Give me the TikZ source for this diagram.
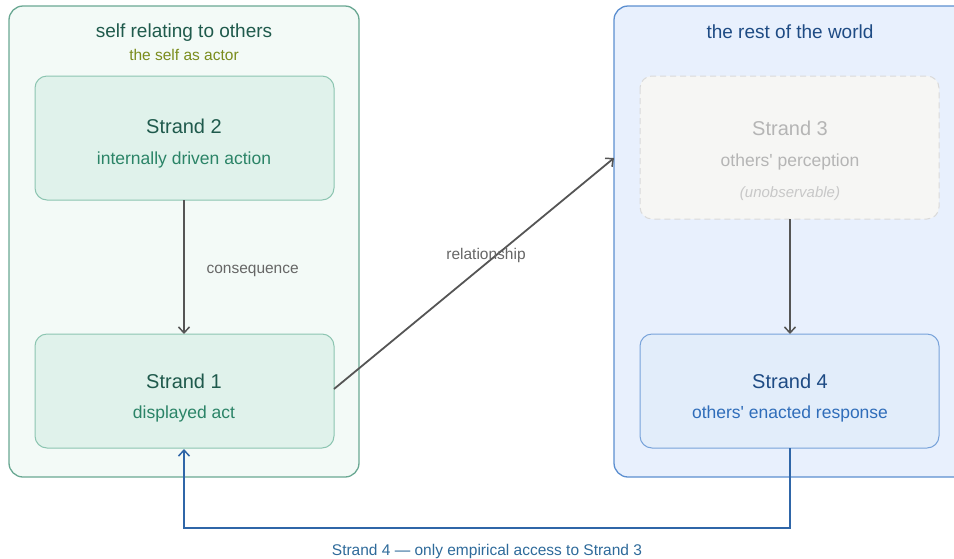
\documentclass[tikz,border=0pt]{standalone}
\usepackage{fontspec}
\setmainfont{Liberation Sans}
\usetikzlibrary{arrows.meta}

\definecolor{selfframe}{HTML}{6AA893}
\definecolor{selffill}{HTML}{F3FAF7}
\definecolor{selfbox}{HTML}{E0F2EB}
\definecolor{selfedge}{HTML}{8CC5B1}
\definecolor{selfhead}{HTML}{1F5A4C}
\definecolor{selfsub}{HTML}{2B8467}
\definecolor{olive}{HTML}{7A8C1C}
\definecolor{worldframe}{HTML}{5C8FD0}
\definecolor{worldfill}{HTML}{E8F0FD}
\definecolor{worldbox}{HTML}{E2EDFA}
\definecolor{worldedge}{HTML}{78A3DA}
\definecolor{worldhead}{HTML}{1E4B84}
\definecolor{worldsub}{HTML}{2F6DBA}
\definecolor{hiddenfill}{HTML}{F6F6F4}
\definecolor{hiddenedge}{HTML}{DADADA}
\definecolor{hiddentext}{HTML}{B5B5B5}
\definecolor{hiddenfaint}{HTML}{C8C8C8}
\definecolor{linkgray}{HTML}{555555}
\definecolor{labelgray}{HTML}{666666}
\definecolor{feedback}{HTML}{2F66A8}
\definecolor{feedtext}{HTML}{2E6A9A}

\newcommand{\fs}[1]{\fontsize{#1pt}{#1pt}\selectfont}
\newcommand{\apos}{\textquotesingle}

\tikzset{
  frame/.style={rounded corners=14pt, line width=1.3pt},
  strandbox/.style={rounded corners=12pt, line width=1pt},
  link/.style={draw=linkgray, line width=1.8pt, -{Straight Barb[length=6pt,width=11pt,line width=1.5pt]}},
  back/.style={draw=feedback, line width=1.9pt, -{Straight Barb[length=6pt,width=11pt,line width=1.5pt]}},
}

\begin{document}
\begin{tikzpicture}[x=1pt,y=-1pt]
\useasboundingbox (0,0) rectangle (954,558);
\begin{scope}
\clip (0,0) rectangle (954,558);

% group frames
\draw[frame, draw=selfframe, fill=selffill] (9,6) rectangle (359,477);
\draw[frame, draw=worldframe, fill=worldfill] (614,6) rectangle (968,477);

% group titles
\node[text=selfhead, font=\fs{19}] (selftitle) at (184,33) {self relating to others};
\node[text=olive, font=\fs{15.5}] (selfsubtitle) at (184,55) {the self as actor};
\node[text=worldhead, font=\fs{19}] (worldtitle) at (790,32) {the rest of the world};

% strand boxes
\draw[strandbox, draw=selfedge, fill=selfbox] (35,76) rectangle (334,200);
\coordinate (s2b) at (184,200);
\node[text=selfhead, font=\fs{20}] (s2t) at (184,126) {Strand 2};
\node[text=selfsub, font=\fs{17.5}] (s2s) at (184,159.5) {internally driven action};

\draw[strandbox, draw=selfedge, fill=selfbox] (35,334) rectangle (334,448);
\coordinate (s1top) at (184,334);
\coordinate (s1bot) at (184,449);
\coordinate (s1right) at (334,389);
\node[text=selfhead, font=\fs{20}] (s1t) at (184,381) {Strand 1};
\node[text=selfsub, font=\fs{17.5}] (s1s) at (184,413.5) {displayed act};

\draw[strandbox, draw=hiddenedge, fill=hiddenfill, dash pattern=on 6pt off 4pt] (640,76) rectangle (939,219);
\coordinate (s3b) at (790,219);
\node[text=hiddentext, font=\fs{20}] (s3t) at (790,128) {Strand 3};
\node[text=hiddentext, font=\fs{17.5}] (s3s) at (790,161.5) {others\apos\ perception};
\node[text=hiddenfaint, font=\fs{15}\itshape] (s3n) at (790,194) {(unobservable)};

\draw[strandbox, draw=worldedge, fill=worldbox] (640,334) rectangle (939,448);
\coordinate (s4top) at (790,334);
\coordinate (s4bot) at (790,448);
\node[text=worldhead, font=\fs{20}] (s4t) at (790,381) {Strand 4};
\node[text=worldsub, font=\fs{17.5}] (s4s) at (790,413.5) {others\apos\ enacted response};

\coordinate (worldleft) at (614,158);

% connectors
\draw[link] (s2b) -- (s1top);
\node[text=labelgray, font=\fs{15.5}, anchor=west] (conseq) at (203,271) {consequence};

\draw[link] (s1right) -- (worldleft);
\node[text=labelgray, font=\fs{15.5}] (rel) at (486,255) {relationship};

\draw[link] (s3b) -- (s4top);

\coordinate (fbR) at (790,528);
\coordinate (fbL) at (184,528);
\draw[back, line join=miter] (s4bot) -- (fbR) -- (fbL) -- (s1bot);
\node[text=feedtext, font=\fs{15.5}] (fbtext) at (487,551) {Strand 4 — only empirical access to Strand 3};
\end{scope}
\end{tikzpicture}
\end{document}
